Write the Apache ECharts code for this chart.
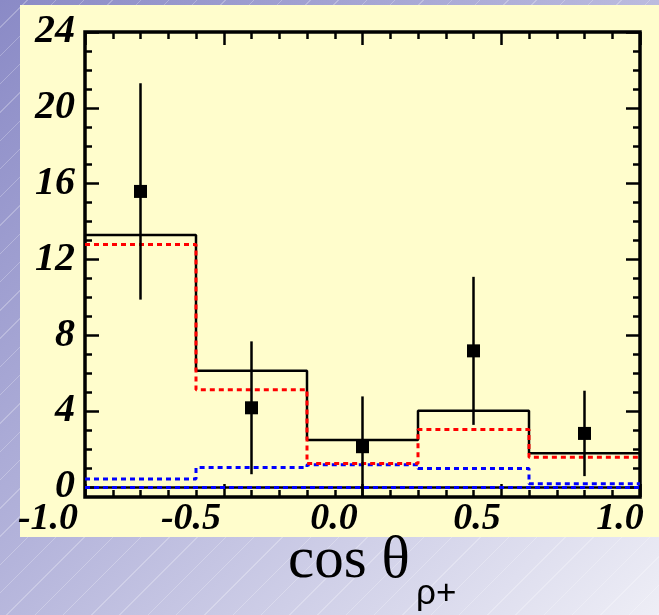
<!DOCTYPE html>
<html>
<head>
<meta charset="utf-8">
<script src="https://cdn.jsdelivr.net/npm/echarts@6/dist/echarts.min.js"></script>
<style>
  html, body { margin: 0; padding: 0; }
  body {
    width: 659px; height: 615px; overflow: hidden;
    background:
      repeating-linear-gradient(135deg, rgba(255,255,255,0) 0px, rgba(255,255,255,0) 19px, rgba(255,255,255,0.25) 19px, rgba(255,255,255,0.25) 20px),
      linear-gradient(135deg, #8a8ac6 0%, #b4b4db 45%, #eeeef6 100%);
  }
  #main { width: 659px; height: 615px; }
</style>
</head>
<body>
<div id="main"></div>
<script>
// bin edges of the histograms (cos theta)
const binEdges = [-1.0, -0.6, -0.2, 0.2, 0.6, 1.0];
// total fit (black solid)
const totalHist = [13.3, 6.15, 2.5, 4.05, 1.8];
// signal component (red dashed)
const redHist = [12.8, 5.15, 1.27, 3.05, 1.6];
// background component (blue dashed)
const blueHist = [0.45, 1.05, 1.2, 1.0, 0.2];
// empty components along zero
const zeroHist = [0, 0, 0, 0, 0];
// data points with errors
const pointX = [-0.8, -0.4, 0.0, 0.4, 0.8];
const pointY = [15.6, 4.2, 2.15, 7.2, 2.85];
const pointErr = [5.7, 3.5, 2.65, 3.9, 2.25];
// tick labels
const xTickLabels = ['-1.0', '-0.5', '0.0', '0.5', '1.0'];

const stepData = (vals) => {
    let d = vals.map((v, i) => [binEdges[i], v]);
    d.push([binEdges[binEdges.length - 1], vals[vals.length - 1]]);
    return d;
};

const labelFont = {
    fontFamily: 'Liberation Serif',
    fontStyle: 'italic',
    fontWeight: 'bold',
    color: '#000'
};
const tickStyle = { color: '#000', width: 2.5 };

var myChart = echarts.init(document.getElementById('main'), null, { renderer: 'canvas' });

let option = {
    backgroundColor: 'transparent',
    animation: false,
    graphic: [
        {
            type: 'rect', z: -100,
            shape: { x: 20, y: 5, width: 639, height: 532 },
            style: { fill: '#FFFDCC' }
        },
        {
            type: 'text', left: 288, top: 532,
            style: { text: 'cos θ', font: '59px "Liberation Serif"', fill: '#000' }
        },
        {
            type: 'text', left: 416, top: 577,
            style: { text: 'ρ+', font: '35px "Liberation Sans"', fill: '#000' }
        }
    ],
    grid: [
        // data grid with frame
        { left: 85, top: 32, width: 555, height: 465, show: true, borderColor: '#000', borderWidth: 3.5, backgroundColor: 'transparent' },
        // y tick grid (0..24)
        { left: 85, top: 32, width: 555, height: 455 },
        // x label grid
        { left: 48, top: 32, width: 572, height: 465 }
    ],
    xAxis: [
        {
            gridIndex: 0, type: 'value', min: -1, max: 1, interval: 0.5, position: 'bottom',
            axisLine: { show: false, onZero: false },
            axisTick: { show: true, inside: true, length: 13, lineStyle: tickStyle },
            minorTick: { show: true, splitNumber: 5, length: 7, lineStyle: tickStyle },
            axisLabel: { show: false },
            splitLine: { show: false }
        },
        {
            gridIndex: 0, type: 'value', min: -1, max: 1, interval: 0.5, position: 'top',
            axisLine: { show: false, onZero: false },
            axisTick: { show: true, inside: true, length: 13, lineStyle: tickStyle },
            minorTick: { show: true, splitNumber: 5, length: 7, lineStyle: tickStyle },
            axisLabel: { show: false },
            splitLine: { show: false }
        },
        { gridIndex: 1, type: 'value', min: -1, max: 1, show: false, axisLine: { onZero: false } },
        {
            gridIndex: 2, type: 'category', data: xTickLabels, boundaryGap: false, position: 'bottom',
            axisLine: { show: false, onZero: false },
            axisTick: { show: false },
            axisLabel: Object.assign({ margin: 3, fontSize: 38 }, labelFont),
            splitLine: { show: false }
        }
    ],
    yAxis: [
        { gridIndex: 0, type: 'value', min: -0.5, max: 24, show: false, axisLine: { onZero: false } },
        {
            gridIndex: 1, type: 'value', min: 0, max: 24, interval: 4, position: 'left',
            axisLine: { show: false, onZero: false },
            axisTick: { show: true, inside: true, length: 14, lineStyle: tickStyle },
            minorTick: { show: true, splitNumber: 4, length: 7, lineStyle: tickStyle },
            axisLabel: Object.assign({ margin: 10, fontSize: 40 }, labelFont),
            splitLine: { show: false }
        },
        {
            gridIndex: 1, type: 'value', min: 0, max: 24, interval: 4, position: 'right',
            axisLine: { show: false, onZero: false },
            axisTick: { show: true, inside: true, length: 14, lineStyle: tickStyle },
            minorTick: { show: true, splitNumber: 4, length: 7, lineStyle: tickStyle },
            axisLabel: { show: false },
            splitLine: { show: false }
        },
        { gridIndex: 2, type: 'value', show: false, axisLine: { onZero: false } }
    ],
    series: [
        {
            name: 'zero', type: 'line', step: 'end', xAxisIndex: 0, yAxisIndex: 0,
            data: stepData(zeroHist), symbol: 'none',
            lineStyle: { color: '#000', width: 2.5 }
        },
        {
            name: 'zeroBlue', type: 'line', step: 'end', xAxisIndex: 0, yAxisIndex: 0,
            data: stepData(zeroHist), symbol: 'none',
            lineStyle: { color: '#0000ff', width: 3, type: [5, 4] }
        },
        {
            name: 'blue', type: 'line', step: 'end', xAxisIndex: 0, yAxisIndex: 0,
            data: stepData(blueHist), symbol: 'none',
            lineStyle: { color: '#0000ff', width: 3, type: [5, 4] }
        },
        {
            name: 'total', type: 'line', step: 'end', xAxisIndex: 0, yAxisIndex: 0,
            data: stepData(totalHist), symbol: 'none',
            lineStyle: { color: '#000', width: 2.5 }
        },
        {
            name: 'red', type: 'line', step: 'end', xAxisIndex: 0, yAxisIndex: 0,
            data: stepData(redHist), symbol: 'none',
            lineStyle: { color: '#ff0000', width: 3, type: [5, 4] }
        },
        {
            name: 'errors', type: 'custom', xAxisIndex: 0, yAxisIndex: 0,
            data: pointX.map((x, i) => [x, pointY[i], pointErr[i]]),
            renderItem: (params, api) => {
                const x = api.value(0), y = api.value(1), e = api.value(2);
                const p1 = api.coord([x, y + e]);
                const p2 = api.coord([x, y - e]);
                return {
                    type: 'line',
                    shape: { x1: p1[0], y1: p1[1], x2: p2[0], y2: p2[1] },
                    style: { stroke: '#000', lineWidth: 2.5 }
                };
            },
            z: 5
        },
        {
            name: 'data', type: 'scatter', xAxisIndex: 0, yAxisIndex: 0,
            data: pointX.map((x, i) => [x, pointY[i]]),
            symbol: 'rect', symbolSize: 13,
            itemStyle: { color: '#000', opacity: 1 },
            z: 6
        }
    ]
};

myChart.setOption(option);
</script>
</body>
</html>
